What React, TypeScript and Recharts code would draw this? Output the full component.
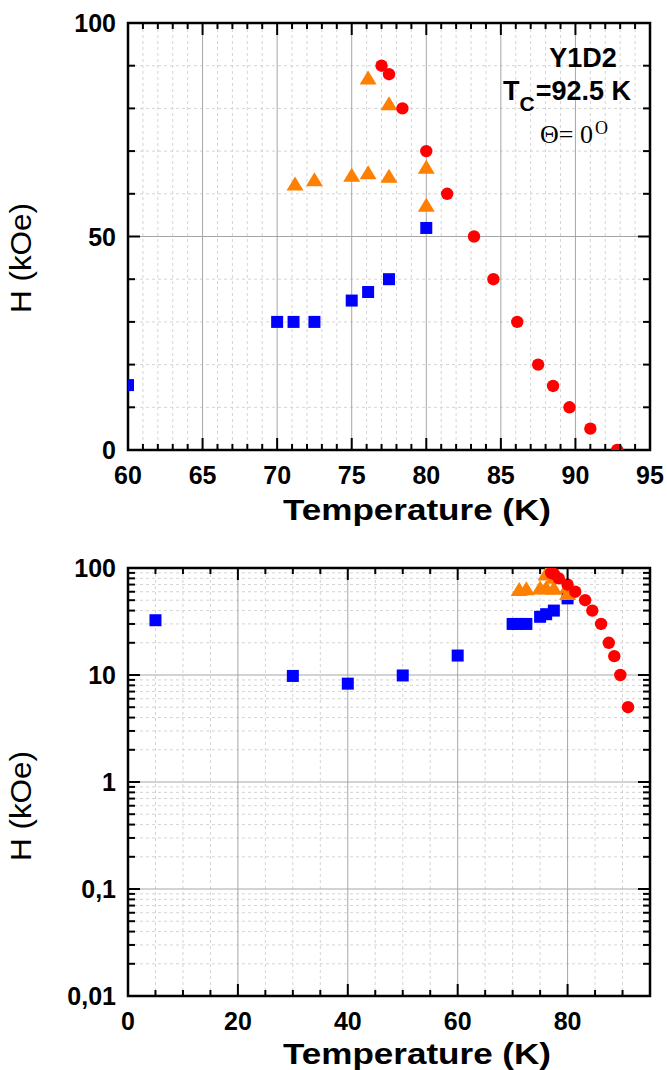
import React from 'react';
import { ScatterChart, Scatter, XAxis, YAxis, CartesianGrid, ReferenceArea } from 'recharts';

// blue squares
const blueT = [5, 30, 40, 50, 60, 70, 71.1, 72.5, 75, 76.1, 77.5, 80];
const blueH = [32.5, 9.8, 8.3, 9.9, 15.2, 30, 30, 30, 35, 37, 40, 52];

// orange triangles
const orangeT = [71.2, 72.5, 75, 76.1, 77.5, 80, 80, 76.1, 77.5];
const orangeH = [62.2, 63.2, 64.2, 64.8, 64, 66.1, 57.2, 87, 81];

// red circles
const redT = [77, 77.5, 78.4, 80, 81.4, 83.2, 84.5, 86.1, 87.5, 88.5, 89.6, 91, 92.8];
const redH = [90, 88, 80, 70, 60, 50, 40, 30, 20, 15, 10, 5, 0];

// tick labels
const topXMajor = [60, 65, 70, 75, 80, 85, 90, 95];
const topYMajor = [0, 50, 100];
const topYMinor = [10, 20, 30, 40, 60, 70, 80, 90];
const botXMajor = [0, 20, 40, 60, 80];
const botYMajor = [0.01, 0.1, 1, 10, 100];
const botYLabels = ['0,01', '0,1', '1', '10', '100'];

const range = (a: number, b: number, step: number) => {
  const out: number[] = [];
  for (let v = a; v <= b + 1e-9; v += step) out.push(v);
  return out;
};
const topXMinor = range(60, 95, 1).filter((v) => !topXMajor.includes(v));
const botXMinor = range(5, 95, 5).filter((v) => !botXMajor.includes(v));
const botYMinor = [0.01, 0.1, 1, 10].flatMap((d) => [2, 3, 4, 5, 6, 7, 8, 9].map((m) => +(d * m).toPrecision(3)));

const pts = (ts: number[], hs: number[]) => ts.map((t, i) => ({ T: t, H: hs[i] }));
const blue = pts(blueT, blueH);
const orange = pts(orangeT, orangeH);
const red = pts(redT, redH);

const SANS = "'Liberation Sans', Arial, sans-serif";
const SERIF = "'Liberation Serif', 'Times New Roman', serif";

type Box = { left: number; right: number; top: number; bottom: number };

// marker shapes, centred on the point the scales give
const Square = (p: any) => <rect x={p.cx - 6} y={p.cy - 6} width={12} height={12} fill="#0000ff" />;
const Dot = (p: any) => <circle cx={p.cx} cy={p.cy} r={6.2} fill="#ff0000" />;
const Tri = (p: any) => (
  <polygon
    points={`${p.cx},${p.cy - 8} ${p.cx - 8.5},${p.cy + 6} ${p.cx + 8.5},${p.cy + 6}`}
    fill="#ff8000"
  />
);

const makeXTick = (box: Box, majors: number[]) => (props: any) => {
  const { x, payload } = props;
  const v = payload.value;
  const major = majors.includes(v);
  const len = major ? 12 : 6;
  return (
    <g>
      <line x1={x} x2={x} y1={box.bottom} y2={box.bottom - len} stroke="#000" strokeWidth={2} />
      <line x1={x} x2={x} y1={box.top} y2={box.top + len} stroke="#000" strokeWidth={2} />
      {major && (
        <text x={x} y={box.bottom + 34} textAnchor="middle" fontFamily={SANS} fontWeight="bold" fontSize={25} fill="#000">
          {v}
        </text>
      )}
    </g>
  );
};

const makeYTick = (box: Box, majors: number[], labels: string[]) => (props: any) => {
  const { y, payload } = props;
  const v = payload.value;
  const idx = majors.indexOf(v);
  const major = idx >= 0;
  const len = major ? 12 : 7;
  return (
    <g>
      <line x1={box.left} x2={box.left + len} y1={y} y2={y} stroke="#000" strokeWidth={2} />
      <line x1={box.right} x2={box.right - len} y1={y} y2={y} stroke="#000" strokeWidth={2} />
      {major && (
        <text x={box.left - 12} y={y + 9} textAnchor="end" fontFamily={SANS} fontWeight="bold" fontSize={25} fill="#000">
          {labels[idx]}
        </text>
      )}
    </g>
  );
};

const topBox: Box = { left: 128, right: 650, top: 23, bottom: 450 };
const botBox: Box = { left: 128, right: 650, top: 38, bottom: 466 };

const YTitle = ({ cy }: { cy: number }) => (
  <text
    x={31}
    y={cy}
    transform={`rotate(-90, 31, ${cy})`}
    textAnchor="middle"
    fontFamily={SANS}
    fontSize={29}
    textLength={110}
    lengthAdjust="spacingAndGlyphs"
    fill="#000"
  >
    H (kOe)
  </text>
);

const XTitle = ({ y }: { y: number }) => (
  <text
    x={417}
    y={y}
    textAnchor="middle"
    fontFamily={SANS}
    fontWeight="bold"
    fontSize={30}
    textLength={268}
    lengthAdjust="spacingAndGlyphs"
    fill="#000"
  >
    Temperature (K)
  </text>
);

const TopPanel = () => (
  <ScatterChart width={667} height={530} margin={{ top: 23, right: 17, bottom: 0, left: 0 }}>
    <CartesianGrid verticalValues={topXMinor} horizontalValues={topYMinor} stroke="#d4d4d4" strokeDasharray="3 3" />
    <CartesianGrid verticalValues={[65, 70, 75, 80, 85, 90]} horizontalValues={[50]} stroke="#a6a6a6" />
    <XAxis
      type="number"
      dataKey="T"
      domain={[60, 95]}
      ticks={range(60, 95, 1)}
      interval={0}
      allowDataOverflow
      height={80}
      axisLine={false}
      tickLine={false}
      tick={makeXTick(topBox, topXMajor)}
    />
    <YAxis
      type="number"
      dataKey="H"
      domain={[0, 100]}
      ticks={[...topYMajor, ...topYMinor].sort((a, b) => a - b)}
      interval={0}
      allowDataOverflow
      width={128}
      axisLine={false}
      tickLine={false}
      tick={makeYTick(topBox, topYMajor, topYMajor.map(String))}
    />
    <Scatter data={blue.filter((p) => p.T >= 60)} fill="#0000ff" shape={Square} legendType="none" isAnimationActive={false} />
    <Scatter data={orange} fill="#ff8000" shape={Tri} legendType="none" isAnimationActive={false} />
    <Scatter data={red} fill="#ff0000" shape={Dot} legendType="none" isAnimationActive={false} />
    <ReferenceArea x1={60} x2={95} y1={0} y2={100} fill="none" stroke="#000" strokeWidth={2.5} />
    <YTitle cy={258} />
    <XTitle y={520} />
    <text x={583} y={67} textAnchor="middle" fontFamily={SANS} fontWeight="bold" fontSize={27} fill="#000">
      Y1D2
    </text>
    <text x={503} y={100} fontFamily={SANS} fontWeight="bold" fontSize={27} fill="#000">
      T
      <tspan fontSize={21} dy={11}>C</tspan>
      <tspan dy={-11} dx={1}>=92.5 K</tspan>
    </text>
    <text x={540} y={143} fontFamily={SERIF} fontSize={26} fill="#000">
      Θ= 0<tspan fontSize={18} dy={-9} dx={2}>O</tspan>
    </text>
  </ScatterChart>
);

const BottomPanel = () => (
  <ScatterChart width={667} height={540} margin={{ top: 38, right: 17, bottom: 0, left: 0 }}>
    <CartesianGrid verticalValues={botXMinor} horizontalValues={botYMinor} stroke="#d4d4d4" strokeDasharray="3 3" />
    <CartesianGrid verticalValues={[20, 40, 60, 80]} horizontalValues={[0.1, 1, 10]} stroke="#a6a6a6" />
    <XAxis
      type="number"
      dataKey="T"
      domain={[0, 95]}
      ticks={[...botXMajor, ...botXMinor].sort((a, b) => a - b)}
      interval={0}
      allowDataOverflow
      height={74}
      axisLine={false}
      tickLine={false}
      tick={makeXTick(botBox, botXMajor)}
    />
    <YAxis
      type="number"
      dataKey="H"
      scale="log"
      domain={[0.01, 100]}
      ticks={[...botYMajor, ...botYMinor].sort((a, b) => a - b)}
      interval={0}
      allowDataOverflow
      width={128}
      axisLine={false}
      tickLine={false}
      tick={makeYTick(botBox, botYMajor, botYLabels)}
    />
    <Scatter data={blue} fill="#0000ff" shape={Square} legendType="none" isAnimationActive={false} />
    <Scatter data={orange} fill="#ff8000" shape={Tri} legendType="none" isAnimationActive={false} />
    <Scatter data={red.filter((p) => p.H > 0)} fill="#ff0000" shape={Dot} legendType="none" isAnimationActive={false} />
    <ReferenceArea x1={0} x2={95} y1={0.01} y2={100} fill="none" stroke="#000" strokeWidth={2.5} />
    <YTitle cy={276} />
    <XTitle y={534} />
  </ScatterChart>
);

export default function App() {
  return (
    <div style={{ position: 'absolute', left: 0, top: 0, width: 667, height: 1070, background: '#fff' }}>
      <div style={{ position: 'absolute', left: 0, top: 0 }}>
        <TopPanel />
      </div>
      <div style={{ position: 'absolute', left: 0, top: 530 }}>
        <BottomPanel />
      </div>
    </div>
  );
}
